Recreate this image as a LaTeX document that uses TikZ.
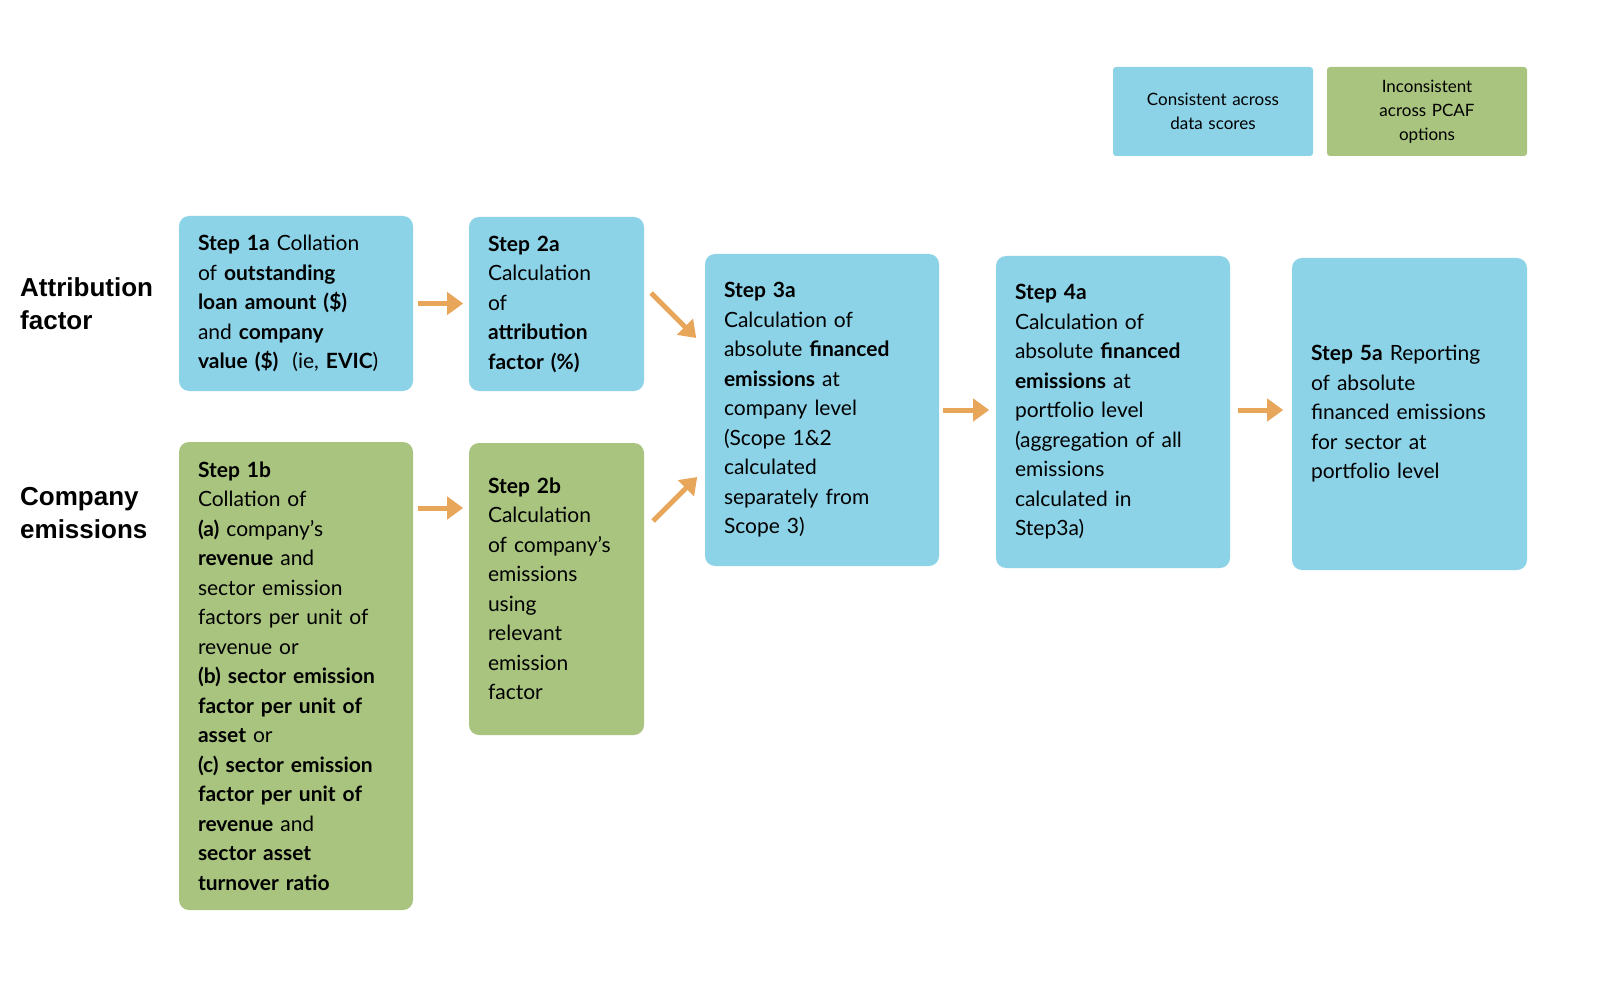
\documentclass[tikz,border=0pt]{standalone}
\usepackage{fontspec}
\setmainfont{Lato}
\newfontfamily\arialf{Liberation Sans}
\usetikzlibrary{arrows.meta}
\definecolor{bluebox}{HTML}{8DD3E8}
\definecolor{greenbox}{HTML}{A9C47F}
\definecolor{arr}{HTML}{E8A65A}
\begin{document}
\begin{tikzpicture}[x=1pt,y=-1pt,
  box/.style={rectangle,rounded corners=10pt,draw=none,align=left,inner sep=0pt,font=\fontsize{21}{29.5}\selectfont},
  leg/.style={rectangle,rounded corners=3pt,draw=none,align=center,inner sep=0pt,minimum width=200pt,minimum height=89pt,text width=180pt,font=\fontsize{17}{24}\selectfont},
  lab/.style={anchor=north west,align=left,inner sep=0pt,font=\arialf\bfseries\fontsize{26}{33}\selectfont},
  ar/.style={draw=arr,line width=5pt,-{Triangle[length=16pt,width=22pt]}}]
\useasboundingbox (0,0) rectangle (1600,1000);
\newcommand\bx[7]{\node[box,fill=#6,minimum width=#3pt,minimum height=#4pt,text width=#5pt] (#1) at (#2) {#7};}
\node[leg,fill=bluebox] (l1) at (1213,111.5) {Consistent across\\data scores};
\node[leg,fill=greenbox] (l2) at (1427,111.5) {Inconsistent\\across PCAF\\options};
\bx{s1a}{296,303.5}{234}{175}{196}{bluebox}{\textbf{Step 1a} Collation\\of \textbf{outstanding}\\\textbf{loan amount (\$)}\\and \textbf{company}\\\textbf{value (\$)}\ \ (ie, \textbf{EVIC})}
\bx{s2a}{556.5,304}{175}{174}{137}{bluebox}{\textbf{Step 2a}\\Calculation\\of\\\textbf{attribution}\\\textbf{factor (\%)}}
\bx{s3a}{822,410}{234}{312}{196}{bluebox}{\textbf{Step 3a}\\Calculation of\\absolute \textbf{financed}\\\textbf{emissions} at\\company level\\(Scope 1\&2\\calculated\\separately from\\Scope 3)}
\bx{s4a}{1113,412}{234}{312}{196}{bluebox}{\textbf{Step 4a}\\Calculation of\\absolute \textbf{financed}\\\textbf{emissions} at\\portfolio level\\(aggregation of all\\emissions\\calculated in\\Step3a)}
\bx{s5a}{1409.5,414}{235}{312}{197}{bluebox}{\textbf{Step 5a} Reporting\\of absolute\\financed emissions\\for sector at\\portfolio level}
\bx{s1b}{296,676}{234}{468}{196}{greenbox}{\textbf{Step 1b}\\Collation of\\\textbf{(a)} company's\\\textbf{revenue} and\\sector emission\\factors per unit of\\revenue or\\\textbf{(b) sector emission}\\\textbf{factor per unit of}\\\textbf{asset} or\\\textbf{(c) sector emission}\\\textbf{factor per unit of}\\\textbf{revenue} and\\\textbf{sector asset}\\\textbf{turnover ratio}}
\bx{s2b}{556.5,589}{175}{292}{137}{greenbox}{\textbf{Step 2b}\\Calculation\\of company's\\emissions\\using\\relevant\\emission\\factor}
\node[lab] (t1) at (20,277) {Attribution\\factor};
\node[lab] (t2) at (20,487) {Company\\emissions};
\draw[ar] (s1a.east)++(5,0) -- ++(45,0);
\draw[ar] (s1b.east|-0,508)++(5,0) -- ++(45,0);
\draw[ar] (s2a.east)++(7,-11) -- ++(45,45);
\draw[ar] (s2b.east|-0,521)++(9,0) -- ++(44,-44);
\draw[ar] (s3a.east)++(4,0) -- ++(46,0);
\draw[ar] (s4a.east)++(8,-2) -- ++(45,0);
\end{tikzpicture}
\end{document}
